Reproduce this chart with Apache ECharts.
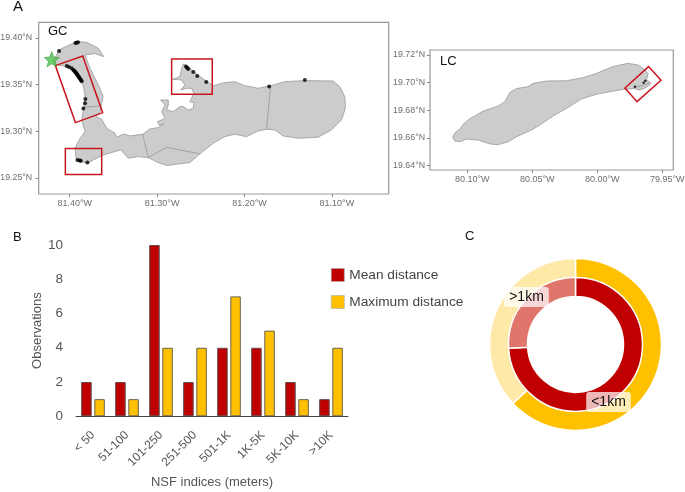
<!doctype html>
<html>
<head>
<meta charset="UTF-8">
<title></title>
<style>
	html, body { margin: 0; padding: 0; background: #fff; }
	#main { width: 685px; height: 492px; }
</style>
</head>
<body>
<div id="main"></div>
<script src="https://cdn.jsdelivr.net/npm/echarts@6/dist/echarts.min.js"></script>
<script type="text/javascript">
// panel A, Grand Cayman [lon, lat]
var gcOutline = [[-81.4187,19.3764],[-81.4110,19.3879],[-81.3920,19.3961],[-81.3806,19.3954],[-81.3672,19.3889],[-81.3611,19.3800],[-81.3710,19.3832],[-81.3825,19.3818],[-81.3768,19.3675],[-81.3672,19.3497],[-81.3619,19.3372],[-81.3653,19.3211],[-81.3699,19.3157],[-81.3634,19.3129],[-81.3577,19.3033],[-81.3482,19.2979],[-81.3463,19.2936],[-81.3379,19.2972],[-81.3310,19.2950],[-81.3166,19.2968],[-81.3082,19.3025],[-81.2987,19.3040],[-81.2922,19.3079],[-81.2975,19.3065],[-81.2998,19.3104],[-81.2948,19.3122],[-81.2910,19.3140],[-81.2948,19.3211],[-81.2910,19.3282],[-81.2960,19.3336],[-81.2872,19.3336],[-81.2872,19.3282],[-81.2891,19.3229],[-81.2815,19.3211],[-81.2739,19.3265],[-81.2701,19.3265],[-81.2644,19.3229],[-81.2586,19.3247],[-81.2579,19.3307],[-81.2625,19.3318],[-81.2579,19.3407],[-81.2606,19.3461],[-81.2663,19.3461],[-81.2731,19.3443],[-81.2682,19.3497],[-81.2720,19.3550],[-81.2823,19.3557],[-81.2739,19.3586],[-81.2720,19.3675],[-81.2701,19.3722],[-81.2644,19.3693],[-81.2510,19.3586],[-81.2358,19.3489],[-81.2225,19.3522],[-81.2110,19.3532],[-81.1996,19.3489],[-81.1844,19.3461],[-81.1710,19.3486],[-81.1539,19.3532],[-81.1310,19.3543],[-81.0986,19.3539],[-81.0910,19.3479],[-81.0853,19.3372],[-81.0845,19.3247],[-81.0891,19.3122],[-81.1005,19.3015],[-81.1158,19.2936],[-81.1386,19.2925],[-81.1558,19.2950],[-81.1653,19.3015],[-81.1748,19.3022],[-81.1844,19.3004],[-81.1977,19.2943],[-81.2110,19.2968],[-81.2225,19.2943],[-81.2358,19.2872],[-81.2510,19.2758],[-81.2625,19.2665],[-81.2777,19.2647],[-81.2891,19.2633],[-81.2998,19.2668],[-81.3101,19.2718],[-81.3215,19.2729],[-81.3329,19.2711],[-81.3417,19.2800],[-81.3615,19.2747],[-81.3729,19.2693],[-81.3798,19.2658],[-81.3882,19.2676],[-81.3928,19.2711],[-81.3939,19.2818],[-81.3893,19.2908],[-81.3825,19.2997],[-81.3863,19.3115],[-81.3844,19.3229],[-81.3821,19.3354],[-81.3844,19.3486],[-81.3920,19.3614],[-81.4034,19.3693],[-81.4168,19.3718]];
var gcDistricts = [
	[[-81.1703,19.3472],[-81.1748,19.3022]],
	[[-81.3166,19.2968],[-81.3101,19.2718]],
	[[-81.3101,19.2718],[-81.2891,19.2829],[-81.2510,19.2758]],
	[[-81.3844,19.3257],[-81.3653,19.3272]]
];
var gcSites = [[-81.4122,19.3861],[-81.3935,19.3946],[-81.3920,19.3950],[-81.3905,19.3954],[-81.4034,19.3700],[-81.4008,19.3689],[-81.3977,19.3675],[-81.3958,19.3657],[-81.3948,19.3648],[-81.3939,19.3639],[-81.3932,19.3630],[-81.3924,19.3622],[-81.3916,19.3611],[-81.3909,19.3600],[-81.3901,19.3590],[-81.3893,19.3579],[-81.3885,19.3568],[-81.3878,19.3557],[-81.3870,19.3546],[-81.3863,19.3536],[-81.3821,19.3347],[-81.3825,19.3300],[-81.3844,19.3243],[-81.3912,19.2693],[-81.3885,19.2686],[-81.3874,19.2683],[-81.3798,19.2665],[-81.2670,19.3693],[-81.2657,19.3680],[-81.2644,19.3668],[-81.2586,19.3636],[-81.2541,19.3593],[-81.2438,19.3529],[-81.1718,19.3479],[-81.1310,19.3550]];
var gcStar = [[-81.4206,19.3772]];
var gcBoxes = [
	[[-81.4164,19.3704],[-81.3851,19.3807],[-81.3623,19.3200],[-81.3935,19.3093]],
	[[-81.4050,19.2815],[-81.3634,19.2815],[-81.3634,19.2536],[-81.4050,19.2536]],
	[[-81.2834,19.3775],[-81.2369,19.3775],[-81.2369,19.3397],[-81.2834,19.3397]]
];
var gcLonTicks = [-81.4, -81.3, -81.2, -81.1];
var gcLatTicks = [19.25, 19.3, 19.35, 19.4];

// panel A, Little Cayman
var lcOutline = [[-80.1113,19.6605],[-80.1095,19.6638],[-80.1056,19.6665],[-80.1031,19.6701],[-80.0980,19.6740],[-80.0877,19.6795],[-80.0762,19.6831],[-80.0711,19.6863],[-80.0672,19.6930],[-80.0621,19.6957],[-80.0532,19.6971],[-80.0493,19.6995],[-80.0391,19.7012],[-80.0237,19.7014],[-80.0109,19.7036],[-80.0007,19.7067],[-79.9879,19.7116],[-79.9764,19.7140],[-79.9687,19.7128],[-79.9636,19.7096],[-79.9610,19.7067],[-79.9620,19.7019],[-79.9592,19.7002],[-79.9592,19.6988],[-79.9623,19.6966],[-79.9674,19.6947],[-79.9717,19.6957],[-79.9797,19.6952],[-79.9904,19.6935],[-80.0007,19.6916],[-80.0122,19.6882],[-80.0237,19.6814],[-80.0340,19.6759],[-80.0442,19.6694],[-80.0506,19.6658],[-80.0621,19.6610],[-80.0685,19.6573],[-80.0762,19.6552],[-80.0826,19.6557],[-80.0916,19.6585],[-80.1005,19.6593],[-80.1056,19.6573],[-80.1095,19.6578]];
var lcSpit = [[[-79.9712,19.6966],[-79.9636,19.6983],[-79.9597,19.7000]]];
var lcSites = [[-79.9710,19.6971],[-79.9643,19.7000],[-79.9630,19.7014]];
var lcBoxes = [[[-79.9787,19.6961],[-79.9605,19.7116],[-79.9510,19.7017],[-79.9694,19.6863]]];
var lcLonTicks = [-80.1, -80.05, -80, -79.95];
var lcLatTicks = [19.64, 19.66, 19.68, 19.7, 19.72];

// panel B
var nsfCategories = ['< 50', '51-100', '101-250', '251-500', '501-1K', '1K-5K', '5K-10K', '>10K'];
var meanDistance = [2, 2, 10, 2, 4, 4, 2, 1];
var maxDistance = [1, 1, 4, 4, 7, 5, 1, 4];

// panel C
var ringNames = ['<1km', '>1km'];
var ringMean = [20, 7];
var ringMax = [17, 10];

function pathSeries(axis, paths, kind, style) {
	return {
		type: 'custom',
		coordinateSystem: 'cartesian2d',
		xAxisIndex: axis,
		yAxisIndex: axis,
		silent: true,
		clip: true,
		z: style.z,
		data: paths.map(function (p, i) { return [p[0][0], p[0][1], i]; }),
		renderItem: function (params, api) {
			var pts = paths[api.value(2)].map(function (p) { return api.coord(p); });
			return {
				type: kind,
				shape: { points: pts },
				style: { fill: style.fill, stroke: style.stroke, lineWidth: style.width }
			};
		}
	};
}

function mapXAxis(idx, min, max, ticks) {
	return {
		gridIndex: idx, type: 'value', min: min, max: max,
		splitLine: { show: false },
		axisLine: { show: false },
		axisTick: { show: true, length: 3, customValues: ticks, lineStyle: { color: '#888' } },
		axisLabel: {
			customValues: ticks, margin: 5, fontSize: 9, color: '#6e6e6e', padding: [0, 0, 0, 10],
			formatter: function (v) { return Math.abs(v).toFixed(2) + '°W'; }
		}
	};
}

function mapYAxis(idx, min, max, ticks, gap) {
	return {
		gridIndex: idx, type: 'value', min: min, max: max,
		splitLine: { show: false },
		axisLine: { show: false },
		axisTick: { show: true, length: 3, customValues: ticks, lineStyle: { color: '#888' } },
		axisLabel: {
			customValues: ticks, margin: gap, fontSize: 8.8, color: '#6e6e6e',
			formatter: function (v) { return v.toFixed(2) + '°N'; }
		}
	};
}

function sitesSeries(axis, pts, size) {
	return {
		type: 'scatter', xAxisIndex: axis, yAxisIndex: axis, data: pts,
		symbolSize: size, z: 4, silent: true,
		itemStyle: { color: '#000' }
	};
}

function letter(txt, x, y, size) {
	return {
		type: 'text', left: x, top: y,
		style: { text: txt, fontSize: size, fill: '#111', fontFamily: 'Liberation Sans' }
	};
}

var ringCenter = [575.5, 344.4];
var chart = echarts.init(document.getElementById('main'));
chart.setOption({
	animation: false,
	backgroundColor: '#fff',
	textStyle: { fontFamily: 'Liberation Sans' },
	graphic: [
		letter('A', 13, -1, 15),
		letter('B', 13, 231, 13),
		letter('C', 465, 230, 13),
		letter('GC', 48, 25, 13),
		letter('LC', 440, 55, 13)
	],
	grid: [
		{ left: 38.7, top: 22.3, width: 350, height: 171.7, outerBoundsMode: 'none', show: true, borderColor: '#999', borderWidth: 1.2, backgroundColor: 'transparent' },
		{ left: 430, top: 50, width: 243.3, height: 120, outerBoundsMode: 'none', show: true, borderColor: '#999', borderWidth: 1.2, backgroundColor: 'transparent' },
		{ left: 76, top: 245, width: 272, height: 171.3, outerBoundsMode: 'none' }
	],
	xAxis: [
		mapXAxis(0, -81.4355, -81.035, gcLonTicks),
		mapXAxis(1, -80.1287, -79.9415, lcLonTicks),
		{
			gridIndex: 2, type: 'category', data: nsfCategories,
			name: 'NSF indices (meters)', nameLocation: 'middle', nameGap: 60,
			nameTextStyle: { fontSize: 13, color: '#555' },
			axisTick: { show: false },
			axisLine: { lineStyle: { color: '#444', width: 1 } },
			axisLabel: { interval: 0, rotate: 45, fontSize: 12, color: '#555', margin: 17 }
		}
	],
	yAxis: [
		mapYAxis(0, 19.2328, 19.4168, gcLatTicks, 6.5),
		mapYAxis(1, 19.6369, 19.7236, lcLatTicks, 5),
		{
			gridIndex: 2, type: 'value', min: 0, max: 10, interval: 2,
			name: 'Observations', nameLocation: 'middle', nameGap: 31, nameRotate: 90,
			nameTextStyle: { fontSize: 13, color: '#555' },
			splitLine: { show: false },
			axisLine: { show: false },
			axisTick: { show: false },
			axisLabel: { fontSize: 13.5, color: '#555', margin: 13 }
		}
	],
	legend: {
		data: ['Mean distance', 'Maximum distance'],
		orient: 'vertical', left: 331, top: 268, padding: 0,
		itemWidth: 13, itemHeight: 13, itemGap: 13, selectedMode: false,
		icon: 'rect',
		itemStyle: { borderColor: '#aaa', borderWidth: 0.6 },
		textStyle: { fontSize: 13.7, color: '#444' }
	},
	series: [
		pathSeries(0, [gcOutline], 'polygon', { fill: '#cccccc', stroke: '#999', width: 0.8, z: 2 }),
		pathSeries(0, gcDistricts, 'polyline', { fill: 'none', stroke: '#8f8f8f', width: 0.7, z: 3 }),
		sitesSeries(0, gcSites, 4),
		pathSeries(0, gcBoxes, 'polygon', { fill: 'none', stroke: '#c8151b', width: 1.5, z: 5 }),
		{
			type: 'scatter', xAxisIndex: 0, yAxisIndex: 0, data: gcStar, z: 6, silent: true,
			symbol: 'path://M12 1 L15.1 8.6 L23.4 9.3 L17 14.5 L19 22.5 L12 18.1 L5 22.5 L7 14.5 L0.6 9.3 L8.9 8.6 Z',
			symbolSize: 15,
			itemStyle: { color: '#4cc14c', borderColor: '#3a8f3a', borderWidth: 0.7 }
		},
		pathSeries(1, [lcOutline], 'polygon', { fill: '#cccccc', stroke: '#999', width: 0.8, z: 2 }),
		pathSeries(1, lcSpit, 'polyline', { fill: 'none', stroke: '#8f8f8f', width: 0.7, z: 3 }),
		sitesSeries(1, lcSites, 2.5),
		pathSeries(1, lcBoxes, 'polygon', { fill: 'none', stroke: '#c8151b', width: 1.5, z: 5 }),
		{
			name: 'Mean distance', type: 'bar', xAxisIndex: 2, yAxisIndex: 2, data: meanDistance,
			barWidth: 10.5, barGap: '25%',
			itemStyle: { color: '#c00000', borderColor: '#5a4a4a', borderWidth: 1 }
		},
		{
			name: 'Maximum distance', type: 'bar', xAxisIndex: 2, yAxisIndex: 2, data: maxDistance,
			barWidth: 10.5,
			itemStyle: { color: '#ffc000', borderColor: '#6b6250', borderWidth: 1 }
		},
		{
			type: 'pie', center: ringCenter, radius: [66, 86], silent: true,
			label: { show: false }, labelLine: { show: false },
			itemStyle: { borderColor: '#fff', borderWidth: 1.5 },
			data: [
				{ name: ringNames[0], value: ringMax[0], itemStyle: { color: '#ffc000' } },
				{ name: ringNames[1], value: ringMax[1], itemStyle: { color: '#ffe9a8' } }
			]
		},
		{
			type: 'pie', center: ringCenter, radius: [48, 67], silent: true,
			itemStyle: { borderColor: '#fff', borderWidth: 1.5 },
			labelLine: { show: false },
			label: {
				show: true, position: 'inside', formatter: '{b}', fontSize: 14, color: '#111',
				backgroundColor: 'rgba(255,255,255,0.72)', borderRadius: 3, padding: [3, 5]
			},
			labelLayout: function (params) {
				return params.dataIndex === 0 ? { dx: -11, dy: 16 } : { dx: -5, dy: -6 };
			},
			data: [
				{ name: ringNames[0], value: ringMean[0], itemStyle: { color: '#c00000' } },
				{ name: ringNames[1], value: ringMean[1], itemStyle: { color: '#e0756b' } }
			]
		}
	]
});
</script>
</body>
</html>
